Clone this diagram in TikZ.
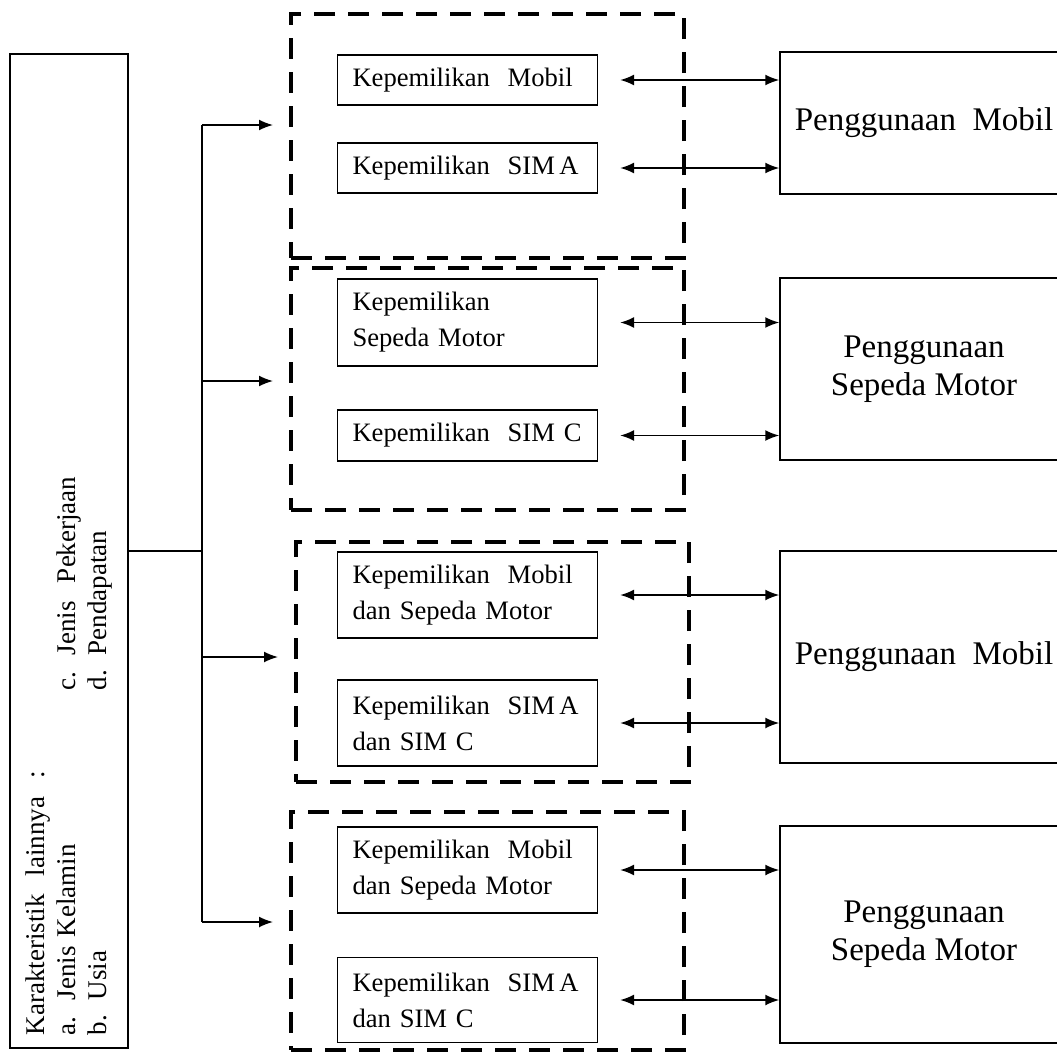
\documentclass[tikz,border=0pt]{standalone}
\usepackage{fontspec}
\setmainfont{Liberation Serif}
\usetikzlibrary{arrows.meta}

\begin{document}
\begin{tikzpicture}[x=0.5pt, y=-0.5pt,
    dashbox/.style={draw, line width=2pt, dash pattern=on 10.5pt off 6.5pt, minimum width=196.5pt, inner sep=0pt},
    ownbox/.style={draw, line width=0.7pt, text width=115pt, inner xsep=7.5pt, inner ysep=0pt, align=left, font=\fontsize{13.3}{18}\selectfont},
    usagebox/.style={draw, line width=0.75pt, minimum width=144pt, align=center, font=\fontsize{16.5}{19}\selectfont},
    link/.style={line width=0.8pt, {Latex[length=7pt,width=5.5pt]}-{Latex[length=7pt,width=5.5pt]}},
    branch/.style={line width=0.8pt, -{Latex[length=7pt,width=5.5pt]}}]
  \useasboundingbox (0,0) rectangle (1057,1055);

  % karakteristik lainnya
  \node[draw, line width=1pt, rotate=90, minimum width=497pt, minimum height=59pt, text width=484pt, inner xsep=6.5pt, align=left, font=\fontsize{13.5}{15.5}\selectfont] (kar) at (69,551)
    {Karakteristik~~lainnya~~:\\
     \makebox[17.5pt][l]{a.}\makebox[155pt][l]{Jenis~Kelamin}\makebox[17.5pt][l]{c.}Jenis~~Pekerjaan\\
     \makebox[17.5pt][l]{b.}\makebox[155pt][l]{Usia}\makebox[17.5pt][l]{d.}Pendapatan};

  % kelompok kepemilikan
  \node[dashbox, minimum height=122pt] (g1) at (487.5,136) {};
  \node[dashbox, minimum height=121pt] (g2) at (487.5,389) {};
  \node[dashbox, minimum height=120pt] (g3) at (492.5,662) {};
  \node[dashbox, minimum height=119pt] (g4) at (487.5,931) {};

  \node[ownbox, minimum height=25pt] (m1) at (467.5,80) {Kepemilikan~~Mobil};
  \node[ownbox, minimum height=25pt] (s1) at (467.5,168) {\mbox{Kepemilikan~~SIM\,A}};
  \node[ownbox, minimum height=43.5pt] (m2) at (467.5,322.5) {Kepemilikan\\Sepeda Motor};
  \node[ownbox, minimum height=25.5pt] (s2) at (467.5,435.5) {\mbox{Kepemilikan~~SIM C}};
  \node[ownbox, minimum height=43pt] (m3) at (467.5,595) {Kepemilikan~~Mobil\\dan Sepeda Motor};
  \node[ownbox, minimum height=43pt] (s3) at (467.5,723) {\mbox{Kepemilikan~~SIM\,A}\\dan SIM C};
  \node[ownbox, minimum height=43pt] (m4) at (467.5,870) {Kepemilikan~~Mobil\\dan Sepeda Motor};
  \node[ownbox, minimum height=42.5pt] (s4) at (467.5,1000) {\mbox{Kepemilikan~~SIM\,A}\\dan SIM C};

  % penggunaan
  \node[usagebox, minimum height=71pt] (p1) at (924,123) {Penggunaan~~Mobil};
  \node[usagebox, minimum height=91pt] (p2) at (924,369) {Penggunaan\\Sepeda Motor};
  \node[usagebox, minimum height=106pt] (p3) at (924,657) {Penggunaan~~Mobil};
  \node[usagebox, minimum height=108.5pt] (p4) at (924,934.5) {Penggunaan\\Sepeda Motor};

  % garis
  \coordinate (j0) at (202,551);
  \draw[line width=0.8pt] (kar.south) -- (j0);
  \foreach \n/\y in {1/125,2/381,3/657,4/922} {
    \coordinate (j\n) at (202,\y);
    \draw[branch] (j\n) -- ([xshift=-8pt]j\n -| g\n.west);
  }
  \draw[line width=0.8pt] (j1) -- (j4);

  \foreach \a/\b in {m1/p1,s1/p1,m2/p2,s2/p2,m3/p3,s3/p3,m4/p4,s4/p4}
    \draw[link] ([xshift=11pt]\a.east) -- (\a.east -| \b.west);
\end{tikzpicture}
\end{document}
